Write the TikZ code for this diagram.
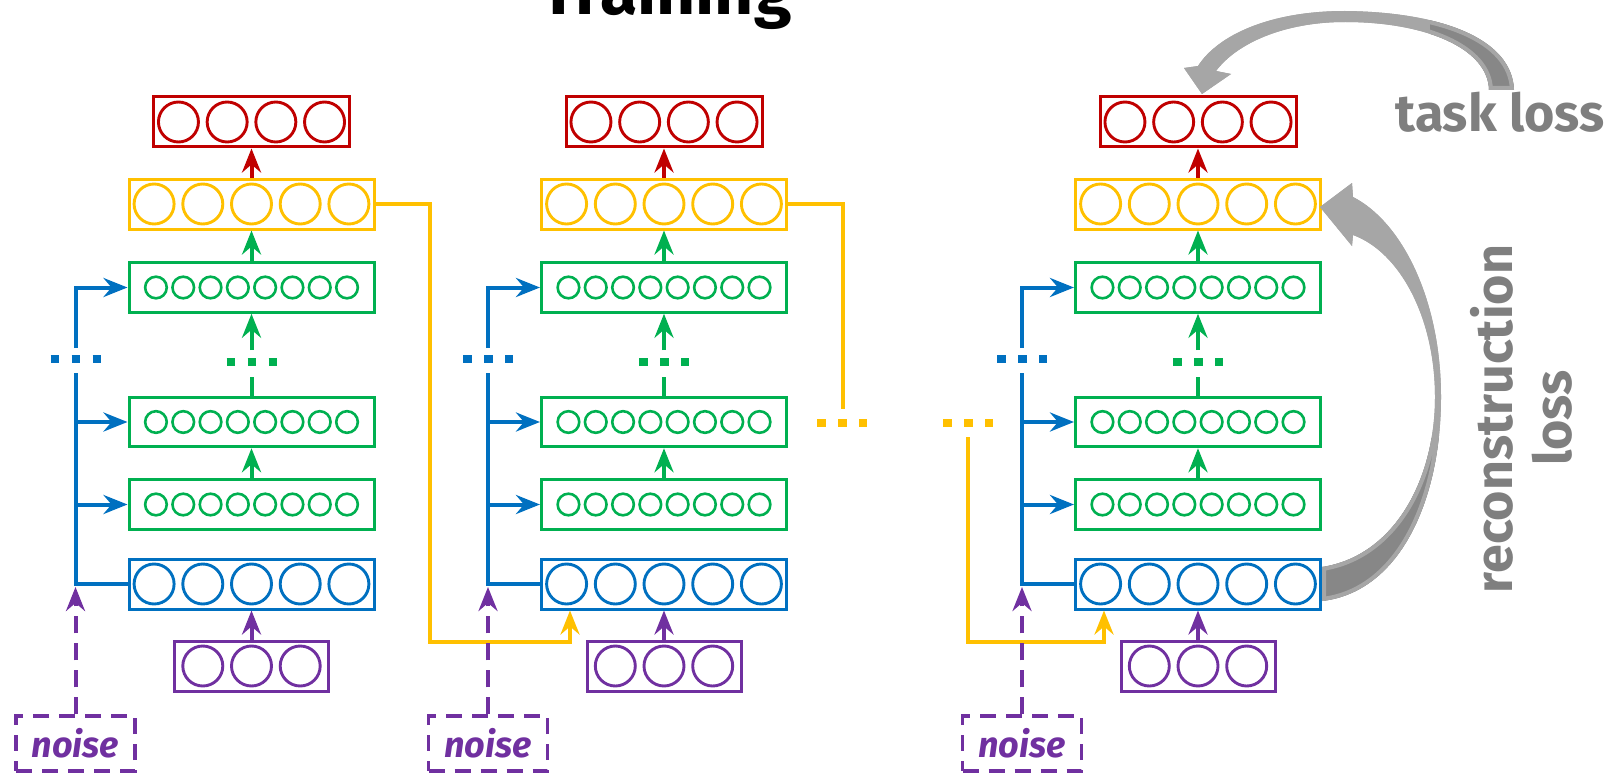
\documentclass[tikz,border=0pt]{standalone}
\usepackage{fontspec}
\setmainfont{Fira Sans}
\usetikzlibrary{arrows.meta,calc}

\definecolor{cred}{HTML}{C00000}
\definecolor{cyel}{HTML}{FFC000}
\definecolor{cgrn}{HTML}{00B050}
\definecolor{cblu}{HTML}{0070C0}
\definecolor{cpur}{HTML}{7030A0}
\definecolor{glight}{HTML}{A6A6A6}
\definecolor{gdark}{HTML}{878787}
\definecolor{gtext}{HTML}{7F7F7F}

\tikzset{
  layer/.style={draw, line width=3pt, inner sep=0pt, minimum height=50pt, minimum width=245pt},
  outbox/.style={layer, cred, minimum width=196pt},
  recbox/.style={layer, cyel},
  hidbox/.style={layer, cgrn, minimum height=49.5pt},
  encbox/.style={layer, cblu},
  inbox/.style={layer, cpur, minimum width=154pt},
  noisebox/.style={draw, cpur, line width=3.4pt, dash pattern=on 16pt off 10pt,
    minimum width=119pt, minimum height=55pt, inner sep=0pt,
    font=\fontsize{36}{40}\selectfont\bfseries\itshape, text=cpur},
  bigunit/.style={line width=2.9pt},
  smallunit/.style={line width=2.6pt},
  conn/.style={line width=4pt},
  dashline/.style={dash pattern=on 17pt off 10pt},
  headed/.style={-{Stealth[length=24pt,width=19pt,inset=8pt]}},
  dots/.style={line width=8.5pt, dash pattern=on 8.5pt off 12.5pt},
  graylabel/.style={font=\fontsize{52}{60}\selectfont\bfseries, text=gtext, anchor=base, inner sep=0pt},
}

% one ladder network: #1 = centre x, #2 = name prefix
\newcommand\netcol[2]{%
  \pgfmathsetmacro\bx{#1-176}%
  \node[outbox] (#2-out) at (#1,122) {};
  \node[recbox] (#2-rec) at (#1,204) {};
  \node[hidbox] (#2-h1) at (#1,287.5) {};
  \node[hidbox] (#2-h2) at (#1,422) {};
  \node[hidbox] (#2-h3) at (#1,504.5) {};
  \node[encbox] (#2-enc) at (#1,584) {};
  \node[inbox]  (#2-in)  at (#1,666) {};
  \node[noisebox] (#2-noise) at (\bx,743.5) {noise};
  % units inside the layers
  \foreach \k in {-1.5,-0.5,0.5,1.5}
    \draw[bigunit,cred] (#1+\k*48.7,122) circle[radius=20pt];
  \foreach \k in {-2,...,2}{
    \draw[bigunit,cyel] (#1+\k*48.7,204) circle[radius=20pt];
    \draw[bigunit,cblu] (#1+\k*48.7,584) circle[radius=20pt];}
  \foreach \k in {-1,0,1}
    \draw[bigunit,cpur] (#1+\k*48.7,666) circle[radius=20pt];
  \foreach \yy in {287.5,422,504.5}
    \foreach \k in {-3.5,-2.5,...,3.5}
      \draw[smallunit,cgrn] (#1+\k*27.3,\yy) circle[radius=10.8pt];
  % bus and gap points
  \coordinate (#2-bt) at (\bx,348);
  \coordinate (#2-bb) at (\bx,373);
  \coordinate (#2-bd) at (\bx,359);
  \coordinate (#2-bn) at (\bx,587);
  \coordinate (#2-gt) at (#1,350);
  \coordinate (#2-gb) at (#1,377);
  \coordinate (#2-gd) at (#1,362);
  % lateral (blue) connections
  \draw[conn,cblu,headed] (#2-bt) |- (#2-h1.west);
  \draw[conn,cblu] (#2-bb) |- (#2-enc.west);
  \draw[conn,cblu,headed] (#2-h2.west -| #2-bb) -- (#2-h2.west);
  \draw[conn,cblu,headed] (#2-h3.west -| #2-bb) -- (#2-h3.west);
  \draw[dots,cblu] ([xshift=-25pt]#2-bd) -- ([xshift=25pt]#2-bd);
  % upward path
  \draw[conn,cgrn] (#2-h2.north) -- (#2-gb);
  \draw[conn,cgrn,headed] (#2-gt) -- (#2-h1.south);
  \draw[dots,cgrn] ([xshift=-25pt]#2-gd) -- ([xshift=25pt]#2-gd);
  \draw[conn,cgrn,headed] (#2-h3.north) -- (#2-h2.south);
  \draw[conn,cgrn,headed] (#2-h1.north) -- (#2-rec.south);
  \draw[conn,cred,headed] (#2-rec.north) -- (#2-out.south);
  \draw[conn,cpur,headed] (#2-in.north) -- (#2-enc.south);
}

% curved loss arrows
\def\taskpath{(1514,90) .. controls (1512,38) and (1440,12) .. (1345,11)
  .. controls (1270,11) and (1218,35) .. (1198,66) -- (1184,68) -- (1202,94)
  -- (1231,74) -- (1216,71) .. controls (1236,44) and (1283,22) .. (1345,22)
  .. controls (1425,22) and (1488,48) .. (1489,90) -- cycle}
\def\recpath{(1320,207) -- (1352,183) -- (1353,197)
  .. controls (1402,222) and (1441,300) .. (1441,397)
  .. controls (1441,500) and (1400,592) .. (1322,601) -- (1322,567)
  .. controls (1394,556) and (1435,480) .. (1435,397)
  .. controls (1435,318) and (1400,252) .. (1353,235) -- (1352,246) -- cycle}

\begin{document}
\begin{tikzpicture}[x=1pt,y=-1pt]
\path[use as bounding box] (0,0) rectangle (1612,773);
\clip (0,0) rectangle (1612,773);

\node[font=\fontsize{68}{72}\selectfont\bfseries, anchor=base, inner sep=0pt] (title) at (666,15) {Training};

\netcol{251.5}{a}
\netcol{664}{b}
\netcol{1198}{c}

% recurrent (yellow) links between time steps
\coordinate (ya) at (430,642);
\coordinate (yat) at ($(b-enc.south)+(-94,0)$);
\draw[conn,cyel,headed] (a-rec.east) -| (ya) -| (yat);
\coordinate (yb) at (843,409);
\draw[conn,cyel] (b-rec.east) -| (yb);
\coordinate (yd1) at (842,423);
\coordinate (yd2) at (968,423);
\draw[dots,cyel] ([xshift=-25pt]yd1) -- ([xshift=25pt]yd1);
\draw[dots,cyel] ([xshift=-25pt]yd2) -- ([xshift=25pt]yd2);
\coordinate (yc) at (968,437);
\coordinate (ycb) at (1104,642);
\coordinate (yct) at (ycb |- c-enc.south);
\draw[conn,cyel,headed] (yc) |- (ycb) -- (yct);

% noise inputs
\foreach \p in {a,b,c}
  \draw[conn,cpur,dashline,headed] (\p-noise.north) -- (\p-bn);

% loss arrows
\fill[glight] \taskpath;
\begin{scope}
  \clip \taskpath;
  \fill[gdark] (1430,0) rectangle (1612,100);
  \draw[glight,line width=8pt] \taskpath;
\end{scope}
\fill[glight] \recpath;
\begin{scope}
  \clip \recpath;
  \fill[gdark] (1300,438) rectangle (1500,620);
  \draw[glight,line width=8pt] \recpath;
\end{scope}

\node[graylabel] (task) at (1500,132) {task loss};
\node[graylabel, rotate=90] (rec1) at (1512,419) {reconstruction};
\node[graylabel, rotate=90] (rec2) at (1571,418) {loss};
\end{tikzpicture}
\end{document}
